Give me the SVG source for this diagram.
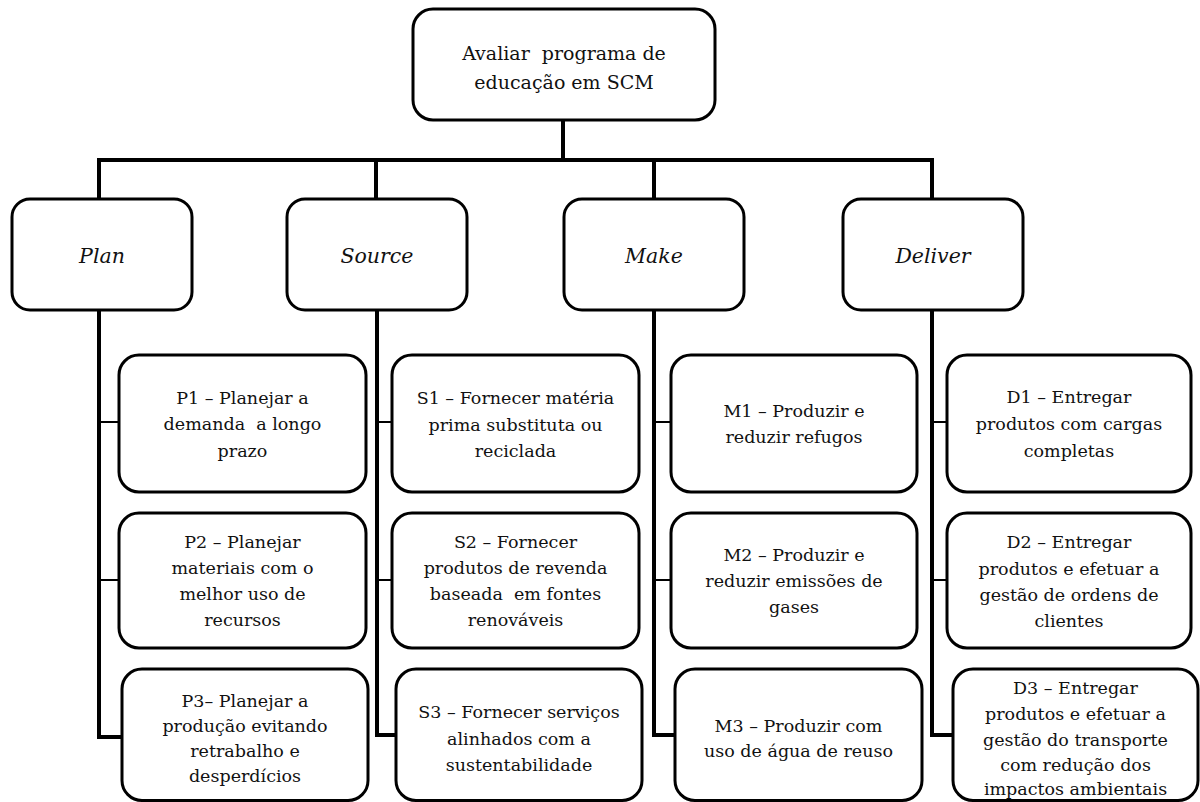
<svg xmlns="http://www.w3.org/2000/svg" width="1200" height="802" viewBox="0 0 1200 802">
  <style>
    .box { fill: #ffffff; stroke: #000000; stroke-width: 3; }
    .trunk { fill: none; stroke: #000000; stroke-width: 4; stroke-linejoin: miter; }
    .twig { fill: none; stroke: #000000; stroke-width: 2; }
    text { fill: #111111; text-anchor: middle; }
  </style>
  <rect width="1200" height="802" fill="#ffffff"/>

  <!-- connectors -->
  <g id="connectors">
    <path class="trunk" d="M563,120 V160"/>
    <path class="trunk" d="M99,200 V160 H932 V200"/>
    <path class="trunk" d="M376,160 V200"/>
    <path class="trunk" d="M654,160 V200"/>
    <!-- Plan branch -->
    <path class="trunk" d="M99,310 V737 H122"/>
    <path class="twig" d="M99,422 H119 M99,580 H119"/>
    <!-- Source branch -->
    <path class="trunk" d="M377,310 V735 H396"/>
    <path class="twig" d="M377,422 H392 M377,580 H392"/>
    <!-- Make branch -->
    <path class="trunk" d="M654,310 V735 H675"/>
    <path class="twig" d="M654,422 H671 M654,580 H671"/>
    <!-- Deliver branch -->
    <path class="trunk" d="M932,310 V735 H953"/>
    <path class="twig" d="M932,422 H947 M932,580 H947"/>
  </g>

  <g font-family="DejaVu Serif, serif" font-size="17.5">
  <!-- root -->
  <g id="root">
    <rect class="box" x="413" y="9" width="302" height="111" rx="20"/>
    <text x="564" y="60" font-size="19">Avaliar&#160; programa de</text>
    <text x="564" y="89" font-size="19">educação em SCM</text>
  </g>

  <!-- process categories -->
  <g font-style="italic" font-size="20.5">
  <g id="plan">
    <rect class="box" x="12" y="199" width="180" height="111" rx="18"/>
    <text x="102" y="263">Plan</text>
  </g>
  <g id="source">
    <rect class="box" x="287" y="199" width="180" height="111" rx="18"/>
    <text x="377" y="263">Source</text>
  </g>
  <g id="make">
    <rect class="box" x="564" y="199" width="180" height="111" rx="18"/>
    <text x="654" y="263">Make</text>
  </g>
  <g id="deliver">
    <rect class="box" x="843" y="199" width="180" height="111" rx="18"/>
    <text x="933" y="263">Deliver</text>
  </g>
  </g>

  <!-- Plan items -->
  <g id="p1">
    <rect class="box" x="119" y="355" width="247" height="137" rx="20"/>
    <text x="242.5" y="404">P1 – Planejar a</text>
    <text x="242.5" y="430">demanda&#160; a longo</text>
    <text x="242.5" y="457">prazo</text>
  </g>
  <g id="p2">
    <rect class="box" x="119" y="513" width="247" height="135" rx="20"/>
    <text x="242.5" y="548">P2 – Planejar</text>
    <text x="242.5" y="574">materiais com o</text>
    <text x="242.5" y="600">melhor uso de</text>
    <text x="242.5" y="626">recursos</text>
  </g>
  <g id="p3">
    <rect class="box" x="122" y="669" width="246" height="131.5" rx="20"/>
    <text x="245" y="707">P3– Planejar a</text>
    <text x="245" y="732">produção evitando</text>
    <text x="245" y="757">retrabalho e</text>
    <text x="245" y="782">desperdícios</text>
  </g>

  <!-- Source items -->
  <g id="s1">
    <rect class="box" x="392" y="355" width="247" height="137" rx="20"/>
    <text x="515.5" y="404">S1 – Fornecer matéria</text>
    <text x="515.5" y="431">prima substituta ou</text>
    <text x="515.5" y="457">reciclada</text>
  </g>
  <g id="s2">
    <rect class="box" x="392" y="513" width="247" height="135" rx="20"/>
    <text x="515.5" y="548">S2 – Fornecer</text>
    <text x="515.5" y="574">produtos de revenda</text>
    <text x="515.5" y="600">baseada&#160; em fontes</text>
    <text x="515.5" y="626">renováveis</text>
  </g>
  <g id="s3">
    <rect class="box" x="396" y="669" width="246" height="131.5" rx="20"/>
    <text x="519" y="718">S3 – Fornecer serviços</text>
    <text x="519" y="745">alinhados com a</text>
    <text x="519" y="771">sustentabilidade</text>
  </g>

  <!-- Make items -->
  <g id="m1">
    <rect class="box" x="671" y="355" width="246" height="137" rx="20"/>
    <text x="794" y="417">M1 – Produzir e</text>
    <text x="794" y="443">reduzir refugos</text>
  </g>
  <g id="m2">
    <rect class="box" x="671" y="513" width="246" height="135" rx="20"/>
    <text x="794" y="561">M2 – Produzir e</text>
    <text x="794" y="587">reduzir emissões de</text>
    <text x="794" y="613">gases</text>
  </g>
  <g id="m3">
    <rect class="box" x="675" y="669" width="247" height="131.5" rx="20"/>
    <text x="798.5" y="732">M3 – Produzir com</text>
    <text x="798.5" y="757">uso de água de reuso</text>
  </g>

  <!-- Deliver items -->
  <g id="d1">
    <rect class="box" x="947" y="355" width="244" height="137" rx="20"/>
    <text x="1069" y="403">D1 – Entregar</text>
    <text x="1069" y="430">produtos com cargas</text>
    <text x="1069" y="457">completas</text>
  </g>
  <g id="d2">
    <rect class="box" x="947" y="513" width="244" height="135" rx="20"/>
    <text x="1069" y="548">D2 – Entregar</text>
    <text x="1069" y="575">produtos e efetuar a</text>
    <text x="1069" y="601">gestão de ordens de</text>
    <text x="1069" y="627">clientes</text>
  </g>
  <g id="d3">
    <rect class="box" x="953" y="669" width="245" height="131.5" rx="20"/>
    <text x="1075.5" y="694">D3 – Entregar</text>
    <text x="1075.5" y="720">produtos e efetuar a</text>
    <text x="1075.5" y="746">gestão do transporte</text>
    <text x="1075.5" y="771">com redução dos</text>
    <text x="1075.5" y="795">impactos ambientais</text>
  </g>
  </g>
</svg>
